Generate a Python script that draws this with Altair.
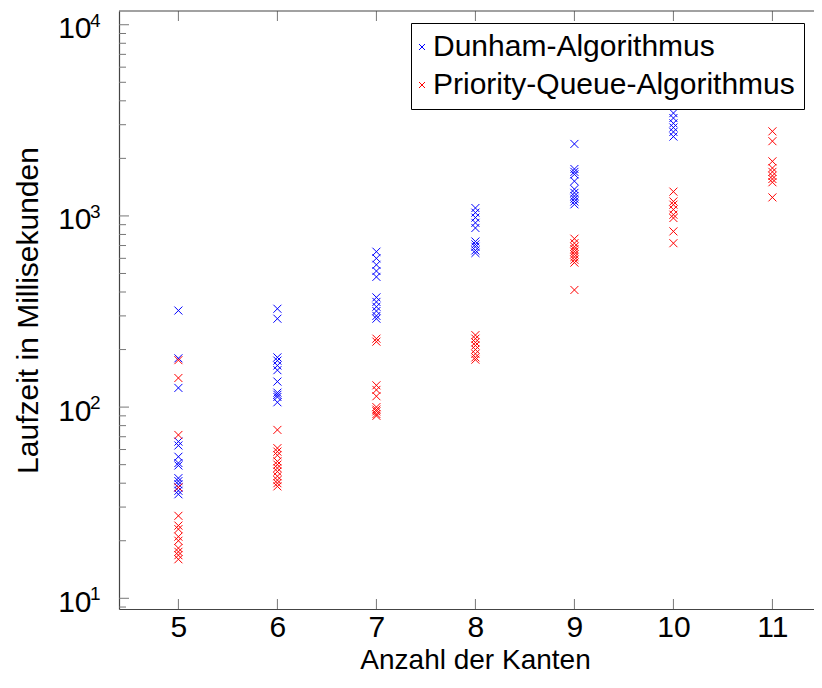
import altair as alt
import pandas as pd

# ---- data ----
kanten = [5, 6, 7, 8, 9, 10, 11]

dunham = {
    5: [320, 180, 126, 66, 63, 55, 51, 49.5, 42.5, 41, 39.5, 38, 36.5, 35],
    6: [327, 290, 182, 175, 165, 156, 136, 119, 116, 113, 106],
    7: [650, 600, 555, 515, 480, 375, 355, 335, 318, 300, 290],
    8: [1100, 1040, 980, 920, 865, 735, 710, 690, 660, 640],
    9: [2380, 1760, 1700, 1650, 1520, 1380, 1320, 1270, 1230, 1190, 1150],
    10: [3450, 3250, 3050, 2900, 2750, 2600],
}
priority = {
    5: [176, 142, 71.5, 38, 27, 24, 23, 21, 20, 18.3, 17.5, 16.8, 16],
    6: [76, 61, 58.5, 56, 52, 50, 48, 46, 43.5, 41.5, 40, 38.5],
    7: [228, 220, 130, 123, 114, 100, 97, 95, 92, 90],
    8: [238, 228, 218, 210, 200, 190, 182, 177],
    9: [760, 720, 690, 670, 650, 630, 610, 590, 570, 410],
    10: [1340, 1190, 1145, 1080, 1015, 975, 830, 720],
    11: [2770, 2460, 1930, 1780, 1700, 1620, 1560, 1500, 1250],
}
series_names = ["Dunham-Algorithmus", "Priority-Queue-Algorithmus"]
series_colors = ["#0000ff", "#ff0000"]

y_major = [10, 100, 1000, 10000]
y_exp = ["1", "2", "3", "4"]
y_minor = [9, 20, 30, 40, 50, 60, 70, 80, 90, 200, 300, 400, 500, 600, 700, 800, 900,
           2000, 3000, 4000, 5000, 6000, 7000, 8000, 9000]

rows = []
for name, d in zip(series_names, [dunham, priority]):
    for k, vals in d.items():
        for v in vals:
            rows.append({"kanten": k, "zeit": v, "algo": name})
df = pd.DataFrame(rows)

FONT = "Liberation Sans"
W, H = 695, 598
XPATH = "M-1,-1L1,1M-1,1L1,-1"
TICK = "#777777"
FRAME = "#444444"

xscale = alt.Scale(domain=[4.4, 11.42], nice=False, zero=False)
yscale = alt.Scale(type="log", domain=[8.79, 11800], nice=False)

xaxis = alt.Axis(
    values=kanten, format="d", ticks=False, tickSize=0, grid=False,
    labelFont=FONT, labelFontSize=30, labelColor="black",
    labelBaseline="alphabetic", labelPadding=27,
    domainColor=FRAME, domainWidth=1.2,
    title="Anzahl der Kanten", titleFont=FONT, titleFontSize=28,
    titleFontWeight="normal", titleColor="black",
    titleX=356, titleY=59, titleBaseline="alphabetic", titleAlign="center",
)
yaxis = alt.Axis(
    values=y_major, labelExpr="'10'", ticks=False, tickSize=0, grid=False,
    labelFont=FONT, labelFontSize=30, labelColor="black",
    labelBaseline="alphabetic", labelOffset=13, labelPadding=28,
    domainColor=FRAME, domainWidth=1.2,
    title="Laufzeit in Millisekunden", titleFont=FONT, titleFontSize=30,
    titleFontWeight="normal", titleColor="black",
    titleX=-82, titleY=299, titleAngle=270, titleBaseline="alphabetic",
    titleAlign="center",
)

points = alt.Chart(df).mark_point(
    shape=XPATH, filled=False, strokeWidth=1, size=64, opacity=1
).encode(
    x=alt.X("kanten:Q", scale=xscale, axis=xaxis),
    y=alt.Y("zeit:Q", scale=yscale, axis=yaxis),
    color=alt.Color("algo:N", scale=alt.Scale(domain=series_names, range=series_colors),
                    legend=alt.Legend(
                        orient="none", legendX=292, legendY=12, title=None,
                        padding=9, strokeColor="black", fillColor="white",
                        cornerRadius=0, labelFont=FONT, labelFontSize=30,
                        labelColor="black", labelLimit=1000,
                        labelOffset=alt.ExprRef("-4"),
                        symbolOffset=alt.ExprRef("-13"),
                        symbolType=XPATH, symbolSize=36, symbolStrokeWidth=1,
                        rowPadding=8,
                    )),
)

xt = pd.DataFrame({"v": kanten})
ymaj = pd.DataFrame({"v": y_major, "e": y_exp})
ymin = pd.DataFrame({"v": y_minor})

xticks_bottom = alt.Chart(xt).mark_rule(color=TICK, strokeWidth=1).encode(
    x=alt.X("v:Q", scale=xscale, axis=xaxis), y=alt.value(H), y2=alt.value(H - 10))
xticks_top = alt.Chart(xt).mark_rule(color=TICK, strokeWidth=1).encode(
    x=alt.X("v:Q", scale=xscale, axis=xaxis), y=alt.value(0), y2=alt.value(10))
yticks_major = alt.Chart(ymaj).mark_rule(color=TICK, strokeWidth=1).encode(
    y=alt.Y("v:Q", scale=yscale, axis=yaxis), x=alt.value(0), x2=alt.value(10))
yticks_minor = alt.Chart(ymin).mark_rule(color=TICK, strokeWidth=1).encode(
    y=alt.Y("v:Q", scale=yscale, axis=yaxis), x=alt.value(0), x2=alt.value(7))
exps = alt.Chart(ymaj).mark_text(
    font=FONT, fontSize=19, align="left", baseline="alphabetic", dy=2, color="black"
).encode(y=alt.Y("v:Q", scale=yscale, axis=yaxis), x=alt.value(-29), text="e:N")
top_border = alt.Chart(xt.head(1)).mark_rule(color=FRAME, strokeWidth=1.2).encode(
    x=alt.value(0), x2=alt.value(W), y=alt.value(0))

chart = alt.layer(
    points, xticks_bottom, xticks_top, yticks_major, yticks_minor, exps, top_border
).properties(
    width=W, height=H,
    autosize=alt.AutoSizeParams(type="none"),
    padding={"left": 111, "top": 3, "right": 0, "bottom": 66},
).configure_view(stroke="transparent")

chart.save("out.html", embed_options={"renderer": "svg", "actions": False})
